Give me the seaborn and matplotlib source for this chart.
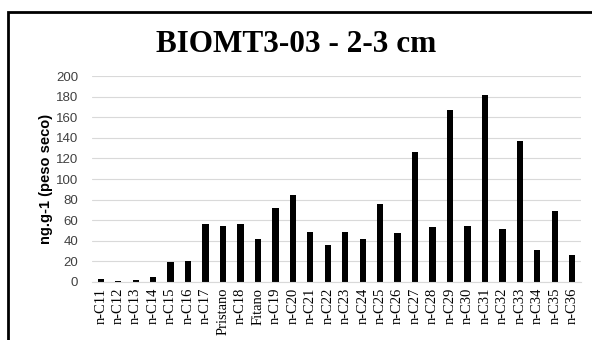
import matplotlib
matplotlib.use("Agg")
import matplotlib.pyplot as plt
import seaborn as sns
import pandas as pd
from matplotlib.patches import Rectangle

categories = ["n-C11", "n-C12", "n-C13", "n-C14", "n-C15", "n-C16", "n-C17", "Pristano",
              "n-C18", "Fitano", "n-C19", "n-C20", "n-C21", "n-C22", "n-C23", "n-C24",
              "n-C25", "n-C26", "n-C27", "n-C28", "n-C29", "n-C30", "n-C31", "n-C32",
              "n-C33", "n-C34", "n-C35", "n-C36"]
values = [3, 1, 2, 5, 19.5, 20.7, 56, 54, 56, 42, 71.6, 84, 48.6, 36.3, 48.6, 42,
          76, 48, 126, 53, 167, 54, 182, 51.5, 137, 31, 69, 26]
yticks = [0, 20, 40, 60, 80, 100, 120, 140, 160, 180, 200]
title = "BIOMT3-03 - 2-3 cm"
ylabel = "ng.g-1 (peso seco)"

df = pd.DataFrame({"cat": categories, "val": values})

sns.set_theme(style="white")
fig = plt.figure(figsize=(5.92, 3.4), dpi=100)
ax = fig.add_axes([92/592, 1-282/340, (581-92)/592, (282-76)/340])

sns.barplot(data=df, x="cat", y="val", color="black", width=0.36, ax=ax,
            saturation=1, order=categories, linewidth=0)

ax.set_ylim(0, 200)
ax.set_yticks(yticks)
ax.set_xlim(-0.5, len(categories) - 0.5)
ax.grid(axis="y", color="#d9d9d9", linewidth=0.8)
ax.set_axisbelow(True)
for s in ["top", "right", "left"]:
    ax.spines[s].set_visible(False)
ax.spines["bottom"].set_color("#d9d9d9")
ax.spines["bottom"].set_linewidth(0.8)
ax.tick_params(axis="both", length=0)
ax.tick_params(axis="y", pad=10)
ax.tick_params(axis="x", pad=4)
for lab in ax.get_yticklabels():
    lab.set_fontfamily("Liberation Sans")
    lab.set_fontsize(9.5)
    lab.set_color("#404040")
for lab in ax.get_xticklabels():
    lab.set_fontfamily("Liberation Serif")
    lab.set_fontsize(10.5)
    lab.set_rotation(90)
    lab.set_color("black")
ax.set_xlabel("")
ax.set_ylabel(ylabel, fontfamily="Liberation Sans", fontweight="bold", fontsize=10.5,
              labelpad=2, color="black")

fig.text(296/592, 1-45/340, title, ha="center", va="center", color="black",
         fontfamily="Liberation Serif", fontweight="bold", fontsize=22.5)

fig.patches.append(Rectangle((8/592, -0.1), 1.2, 1.1 - 12/340, transform=fig.transFigure,
                             fill=False, edgecolor="black", linewidth=2, figure=fig))

fig.savefig("out.png", dpi=100, facecolor="white")
